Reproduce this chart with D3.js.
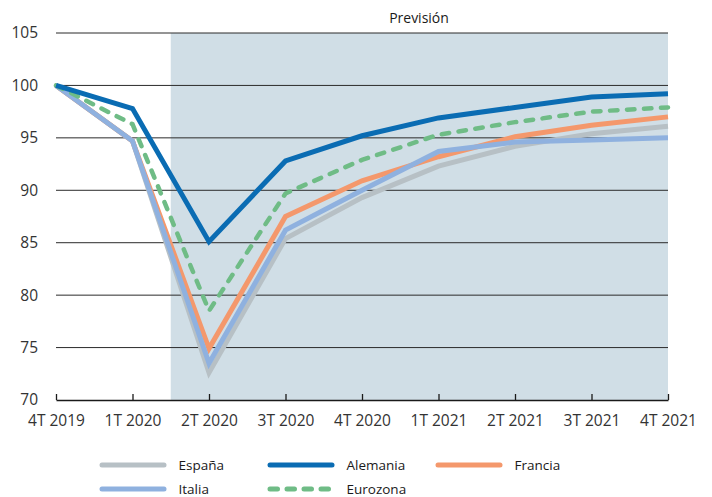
<!DOCTYPE html>
<html>
<head>
<meta charset="utf-8">
<script src="https://cdn.jsdelivr.net/npm/d3@7"></script>
<style>
  html, body { margin: 0; padding: 0; background: #fff; }
  svg text { font-family: "Open Sans", "Noto Sans", sans-serif; fill: #333; }
</style>
</head>
<body>
<svg id="chart" width="712" height="497"></svg>
<script>
// Quarterly GDP index (4T 2019 = 100)
const quarters = ["4T 2019", "1T 2020", "2T 2020", "3T 2020", "4T 2020", "1T 2021", "2T 2021", "3T 2021", "4T 2021"];
const espana   = [100, 94.7, 72.6, 85.4, 89.3, 92.3, 94.2, 95.4, 96.1];
const alemania = [100, 97.8, 85.1, 92.8, 95.2, 96.9, 97.9, 98.9, 99.2];
const francia  = [100, 94.7, 74.9, 87.5, 90.9, 93.2, 95.1, 96.2, 97.0];
const italia   = [100, 94.7, 73.5, 86.2, 90.0, 93.7, 94.6, 94.8, 95.0];
const eurozona = [100, 96.3, 78.5, 89.7, 92.9, 95.3, 96.5, 97.5, 97.9];
const yTicks = [70, 75, 80, 85, 90, 95, 100, 105];
const forecastStart = "1T 2020"; // shading begins half a quarter after this
const forecastLabel = "Previsión";

const series = [
  { name: "España",   values: espana,   color: "#b7c0c5", dash: null },
  { name: "Francia",  values: francia,  color: "#f4986c", dash: null },
  { name: "Italia",   values: italia,   color: "#8fb1df", dash: null },
  { name: "Eurozona", values: eurozona, color: "#6fbc86", dash: "7.5,9.5" },
  { name: "Alemania", values: alemania, color: "#0a6cb3", dash: null }
];

const svg = d3.select("#chart");
const x = d3.scalePoint().domain(quarters).range([56, 668]);
const y = d3.scaleLinear().domain([70, 105]).range([400, 33]);

// forecast shading
const step = x.step();
svg.append("rect")
  .attr("x", x(forecastStart) + step / 2)
  .attr("y", y(105))
  .attr("width", x(quarters[quarters.length - 1]) - (x(forecastStart) + step / 2))
  .attr("height", y(70) - y(105))
  .attr("fill", "#d0dee6");

svg.append("text")
  .attr("x", 419).attr("y", 23)
  .attr("text-anchor", "middle")
  .attr("font-size", 14)
  .style("fill", "#1a1a1a")
  .text(forecastLabel);

// horizontal gridlines
svg.append("g")
  .selectAll("line")
  .data(yTicks.filter(d => d > 70))
  .join("line")
  .attr("x1", x.range()[0]).attr("x2", x.range()[1])
  .attr("y1", d => y(d)).attr("y2", d => y(d))
  .attr("stroke", "#2b2b2b").attr("stroke-width", 1);

// y labels
const yAxis = svg.append("g").attr("transform", "translate(38,0)")
  .call(d3.axisLeft(y).tickValues(yTicks).tickSize(0).tickPadding(0));
yAxis.select(".domain").remove();
yAxis.selectAll("text").attr("font-size", 15.5).style("fill", "#333");

// x axis with ticks pointing up
const xAxis = svg.append("g").attr("transform", `translate(0,${y(70)})`)
  .call(d3.axisBottom(x).tickSize(-6).tickPadding(15).tickSizeOuter(0));
xAxis.select(".domain").attr("stroke", "#1a1a1a").attr("stroke-width", 1.5);
xAxis.selectAll(".tick line").attr("stroke", "#1a1a1a").attr("stroke-width", 1.3);
xAxis.selectAll("text").attr("font-size", 15.5).style("fill", "#333");

// lines
const line = d3.line().x((d, i) => x(quarters[i])).y(d => y(d));
svg.append("g")
  .selectAll("path")
  .data(series)
  .join("path")
  .attr("d", d => line(d.values))
  .attr("fill", "none")
  .attr("stroke", d => d.color)
  .attr("stroke-width", d => d.dash ? 4.5 : 5)
  .attr("stroke-dasharray", d => d.dash)
  .attr("stroke-linecap", d => d.dash ? "round" : "butt")
  .attr("stroke-linejoin", "miter");

// legend
const legendItems = [
  { key: "España",   col: 0, row: 0 },
  { key: "Alemania", col: 1, row: 0 },
  { key: "Francia",  col: 2, row: 0 },
  { key: "Italia",   col: 0, row: 1 },
  { key: "Eurozona", col: 1, row: 1 }
];
const colX = [100, 268, 436];
const rowY = [465, 489];
const legend = svg.append("g");
legendItems.forEach(item => {
  const s = series.find(d => d.name === item.key);
  const lx = colX[item.col], ly = rowY[item.row];
  legend.append("line")
    .attr("x1", lx + 2).attr("x2", s.dash ? lx + 62 : lx + 64)
    .attr("y1", ly).attr("y2", ly)
    .attr("stroke", s.color)
    .attr("stroke-width", 5)
    .attr("stroke-linecap", "round")
    .attr("stroke-dasharray", s.dash ? "7.5,9.5" : null);
  legend.append("text")
    .attr("x", lx + 78.5).attr("y", ly + 5)
    .attr("font-size", 13.5)
    .style("fill", "#1a1a1a")
    .text(s.name);
});
</script>
</body>
</html>
